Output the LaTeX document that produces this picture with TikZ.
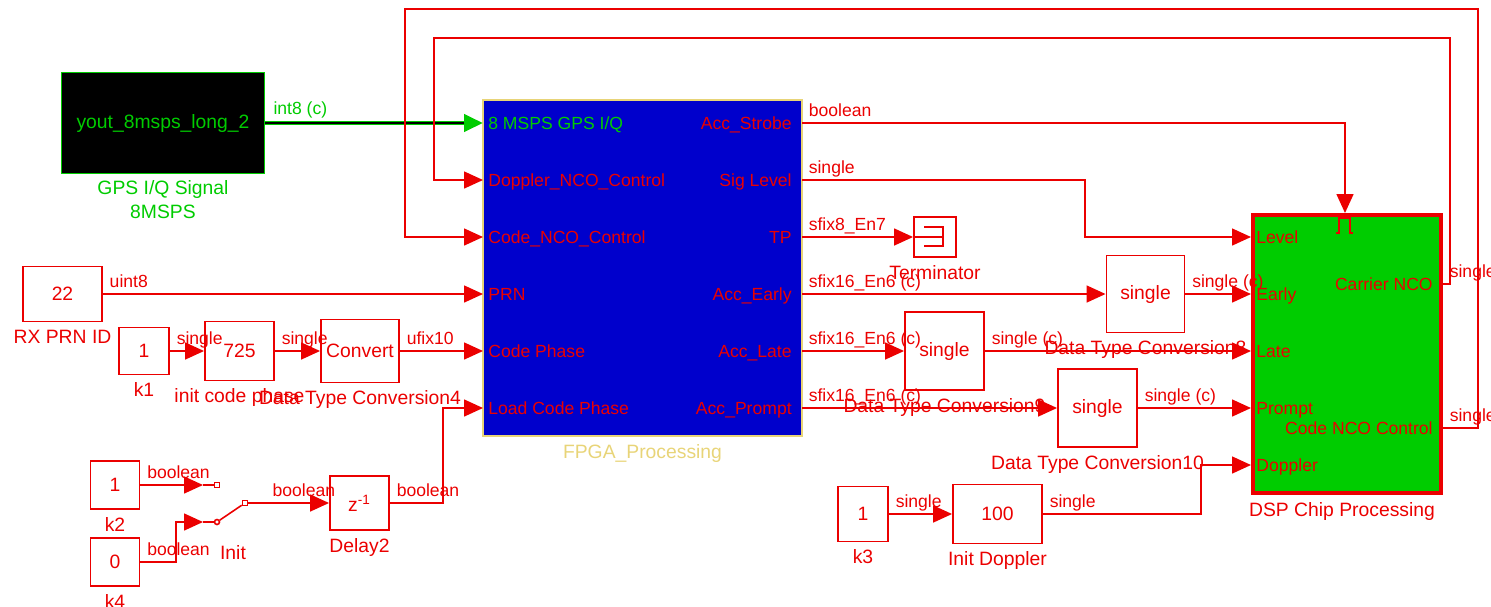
\documentclass[tikz,border=0pt]{standalone}
\usepackage{fontspec}
\setmainfont{Liberation Sans}
\usepackage{xcolor}
\usepackage{tikz}
\usetikzlibrary{arrows.meta, positioning}

\definecolor{simred}{RGB}{235,0,0}
\definecolor{simgreen}{RGB}{0,204,0}
\definecolor{simblue}{RGB}{0,0,204}
\definecolor{simtan}{RGB}{232,212,120}

\tikzset{
  blk/.style={draw=simred, line width=1.1pt, inner sep=0pt, text=simred, font=\fontsize{11}{13}\selectfont},
  sig/.style={draw=simred, line width=0.9pt, -{Triangle[length=0.38cm, width=0.34cm]}},
  wire/.style={draw=simred, line width=0.9pt},
  sl/.style={text=simred, font=\fontsize{10}{12}\selectfont, inner sep=0pt, pos=0, anchor=base west, xshift=0.12cm, yshift=0.14cm},
  pin/.style={text=simred, font=\fontsize{10}{12}\selectfont, inner sep=0pt, anchor=base west, xshift=0.1cm, yshift=-0.126cm},
  pout/.style={text=simred, font=\fontsize{10}{12}\selectfont, inner sep=0pt, anchor=base east, xshift=-0.2cm, yshift=-0.126cm},
  bname/.style={text=simred, font=\fontsize{11}{13.6}\selectfont, inner sep=0pt},
  swsq/.style={draw=simred, line width=0.9pt, fill=white, minimum size=0.1cm, inner sep=0pt},
  swcirc/.style={swsq, circle},
}

\begin{document}
\begin{tikzpicture}[x=0.02cm, y=-0.02cm]
\useasboundingbox (0,0) rectangle (1491,606);

\node[blk, fill=black, draw=simgreen, text=simgreen, minimum width=4.06cm, minimum height=2.02cm] (gps) at (163,123) {yout\_8msps\_long\_2};
\node[bname, text=simgreen, align=center, below=0.12cm of gps] (gpsname) {GPS I/Q Signal\\8MSPS};

\node[draw=simtan, line width=1.1pt, fill=simblue, minimum width=6.38cm, minimum height=6.72cm] (fpga) at (642.5,268) {};
\node[bname, text=simtan, below=0.14cm of fpga] (fpganame) {FPGA\_Processing};
\coordinate (fi1) at (483,123);
\coordinate (fi2) at (483,180);
\coordinate (fi3) at (483,237);
\coordinate (fi4) at (483,294);
\coordinate (fi5) at (483,351);
\coordinate (fi6) at (483,408);
\coordinate (fo1) at (802,123);
\coordinate (fo2) at (802,180);
\coordinate (fo3) at (802,237);
\coordinate (fo4) at (802,294);
\coordinate (fo5) at (802,351);
\coordinate (fo6) at (802,408);
\node[pin, text=simgreen] (fi1t) at (fi1) {8 MSPS GPS I/Q};
\node[pin] (fi2t) at (fi2) {Doppler\_NCO\_Control};
\node[pin] (fi3t) at (fi3) {Code\_NCO\_Control};
\node[pin] (fi4t) at (fi4) {PRN};
\node[pin] (fi5t) at (fi5) {Code Phase};
\node[pin] (fi6t) at (fi6) {Load Code Phase};
\node[pout] (fo1t) at (fo1) {Acc\_Strobe};
\node[pout] (fo2t) at (fo2) {Sig Level};
\node[pout] (fo3t) at (fo3) {TP};
\node[pout] (fo4t) at (fo4) {Acc\_Early};
\node[pout] (fo5t) at (fo5) {Acc\_Late};
\node[pout] (fo6t) at (fo6) {Acc\_Prompt};

\node[draw=simred, line width=2.3pt, fill=simgreen, minimum width=3.76cm, minimum height=5.56cm] (dsp) at (1347,354) {};
\node[bname, below=0.14cm of dsp, xshift=-0.1cm] (dspname) {DSP Chip Processing};
\coordinate (di1) at (1251,237);
\coordinate (di2) at (1251,294);
\coordinate (di3) at (1251,351);
\coordinate (di4) at (1251,408);
\coordinate (di5) at (1251,465);
\coordinate (do1) at (1443,284);
\coordinate (do2) at (1443,428);
\coordinate (dtrig) at (1345,213);
\node[pin] (di1t) at (di1) {Level};
\node[pin] (di2t) at (di2) {Early};
\node[pin] (di3t) at (di3) {Late};
\node[pin] (di4t) at (di4) {Prompt};
\node[pin] (di5t) at (di5) {Doppler};
\node[pout] (do1t) at (do1) {Carrier NCO};
\node[pout] (do2t) at (do2) {Code NCO Control};
\draw[simred, line width=0.9pt] (1336,233) -- (1339,233) -- (1339,218) -- (1350,218) -- (1350,233) -- (1353,233);

\node[blk, minimum width=1.58cm, minimum height=1.10cm] (prn) at (62.5,294) {22};
\node[bname, below=0.14cm of prn] (prnname) {RX PRN ID};
\node[blk, minimum width=1.0cm, minimum height=0.94cm] (k1) at (144,351) {1};
\node[bname, below=0.14cm of k1] (k1name) {k1};
\node[blk, minimum width=1.38cm, minimum height=1.18cm] (icp) at (239.5,351) {725};
\node[bname, below=0.14cm of icp] (icpname) {init code phase};
\node[blk, minimum width=1.56cm, minimum height=1.26cm] (dtc4) at (360,351) {Convert};
\node[bname, below=0.14cm of dtc4] (dtc4name) {Data Type Conversion4};

\node[blk, minimum width=0.98cm, minimum height=0.96cm] (k2) at (115,485) {1};
\node[bname, below=0.14cm of k2] (k2name) {k2};
\node[blk, minimum width=0.98cm, minimum height=0.96cm] (k4) at (115,562) {0};
\node[bname, below=0.14cm of k4] (k4name) {k4};
\coordinate (swIn1) at (203,485);
\coordinate (swIn2) at (203,522);
\coordinate (k4A) at (176,522);
\node[swsq] (sq1) at (217,485) {};
\node[swcirc] (sq2) at (217,522) {};
\node[swsq] (sq3) at (245,503) {};
\node[bname] (swname) at (233,553) {Init};
\node[blk, minimum width=1.18cm, minimum height=1.08cm] (dly) at (359.5,503) {z\textsuperscript{-1}};
\node[bname, below=0.14cm of dly] (dlyname) {Delay2};
\coordinate (dlyA) at (443,408);

\node[blk, minimum width=0.84cm, minimum height=0.8cm] (term) at (935,237) {};
\node[bname, below=0.14cm of term] (termname) {Terminator};
\draw[wire] (term.west) -- (943,237);
\draw[wire] (924,227) -- (943,227) -- (943,246) -- (924,246);

\node[blk, minimum width=1.56cm, minimum height=1.54cm] (dtc8) at (1145.5,294) {single};
\node[bname, below=0.14cm of dtc8] (dtc8name) {Data Type Conversion8};
\node[blk, minimum width=1.58cm, minimum height=1.56cm] (dtc9) at (944.5,351) {single};
\node[bname, below=0.14cm of dtc9] (dtc9name) {Data Type Conversion9};
\node[blk, minimum width=1.58cm, minimum height=1.56cm] (dtc10) at (1097.5,408) {single};
\node[bname, below=0.14cm of dtc10] (dtc10name) {Data Type Conversion10};

\node[blk, minimum width=1.0cm, minimum height=1.1cm] (k3) at (863,514) {1};
\node[bname, below=0.14cm of k3] (k3name) {k3};
\node[blk, minimum width=1.78cm, minimum height=1.18cm] (idop) at (997.5,514) {100};
\node[bname, below=0.14cm of idop] (idopname) {Init Doppler};
\coordinate (dopA) at (1201,465);

\coordinate (carA) at (1450,38);
\coordinate (carB) at (434,180);
\coordinate (codA) at (1478,9);
\coordinate (codB) at (405,237);
\coordinate (lvlA) at (1085,237);

\draw[simgreen, line width=2.4pt, -{Triangle[length=0.38cm, width=0.34cm]}] (gps.east) -- node[sl, text=simgreen, yshift=0.03cm]{int8 (c)} (fi1);
\draw[black, line width=0.7pt] (gps.east) -- ([xshift=-0.38cm]fi1);
\draw[sig] (prn.east) -- node[sl]{uint8} (fi4);
\draw[sig] (k1.east) -- node[sl]{single} (icp.west);
\draw[sig] (icp.east) -- node[sl]{single} (dtc4.west);
\draw[sig] (dtc4.east) -- node[sl]{ufix10} (fi5);
\draw[sig] (k2.east) -- node[sl]{boolean} (swIn1);
\draw[wire] (swIn1) -- (sq1);
\draw[sig] (k4.east) -| node[sl]{boolean} (k4A) -- (swIn2);
\draw[wire] (swIn2) -- (sq2);
\draw[wire] (sq2) -- (sq3);
\draw[sig] (sq3) -- node[sl, xshift=0.35cm]{boolean} (dly.west);
\draw[sig] (dly.east) -| node[sl]{boolean} (dlyA) -- (fi6);

\draw[sig] (fo1) -| node[sl]{boolean} (dtrig);
\draw[sig] (fo2) -| node[sl]{single} (lvlA) -- (di1);
\draw[sig] (fo3) -- node[sl]{sfix8\_En7} (term.west);
\draw[sig] (fo4) -- node[sl]{sfix16\_En6 (c)} (dtc8.west);
\draw[sig] (fo5) -- node[sl]{sfix16\_En6 (c)} (dtc9.west);
\draw[sig] (fo6) -- node[sl]{sfix16\_En6 (c)} (dtc10.west);
\draw[sig] (dtc8.east) -- node[sl]{single (c)} (di2);
\draw[sig] (dtc9.east) -- node[sl]{single (c)} (di3);
\draw[sig] (dtc10.east) -- node[sl]{single (c)} (di4);
\draw[sig] (k3.east) -- node[sl]{single} (idop.west);
\draw[sig] (idop.east) -| node[sl]{single} (dopA) -- (di5);

\draw[sig] (do1) -| node[sl]{single} (carA) -| (carB) -- (fi2);
\draw[sig] (do2) -| node[sl]{single} (codA) -| (codB) -- (fi3);
\end{tikzpicture}
\end{document}
